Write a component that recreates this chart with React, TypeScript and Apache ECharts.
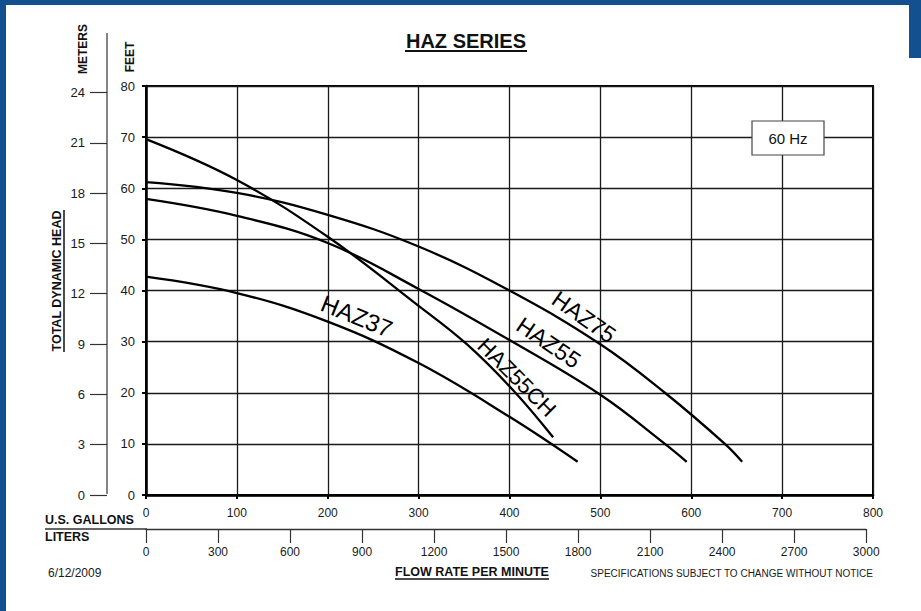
import { useEffect, useRef } from "react";
import * as echarts from "echarts";

// ---- axis scales ----
const GALLON_MAX = 800;
const GALLON_STEP = 100;
const FEET_MAX = 80;
const FEET_STEP = 10;
const LITER_MAX = 3000;
const LITER_STEP = 300;
const meterTicks = [0, 3, 6, 9, 12, 15, 18, 21, 24];
const FT_PER_M = 3.28084;
const L_PER_GAL = 3.78541;

// ---- pump curves: [US gallons per minute, feet of head] ----
const haz75 = [
  [0, 61.2], [100, 59.1], [200, 54.8], [300, 48.6], [400, 40.0],
  [500, 29.5], [571, 20], [637, 10], [656, 6.5],
];
const haz55 = [
  [0, 57.9], [100, 54.6], [200, 49.3], [300, 40.3], [400, 30.3],
  [500, 19.6], [571, 10], [595, 6.5],
];
const haz55ch = [
  [0, 69.6], [100, 61.6], [200, 50.5], [300, 37.0], [353, 29.5],
  [404, 20.5], [448, 11.3],
];
const haz37 = [
  [0, 42.7], [100, 39.5], [200, 33.9], [300, 25.8], [400, 15.3],
  [475, 6.5],
];

const curveNames = ["HAZ75", "HAZ55", "HAZ55CH", "HAZ37"];
const curveData = [haz75, haz55, haz55ch, haz37];
// label anchors in data coordinates (gpm, ft), text angle in degrees, font size
const labelAnchors = [[482, 34.8], [443, 29.8], [408, 23.0], [232, 35.0]];
const labelAngles = [-35, -34, -45, -22];
const labelSizes = [23, 23, 22, 24];

const FONT = "Liberation Sans, Arial, Helvetica, sans-serif";

export default function App() {
  const ref = useRef<HTMLDivElement>(null);

  useEffect(() => {
    if (!ref.current) return;
    const chart = echarts.init(ref.current, null, { renderer: "svg" });

    const gridLeft = 146;
    const gridTop = 86;
    const gridWidth = 727;
    const gridHeight = 409;
    const literWidth = (gridWidth * (LITER_MAX / L_PER_GAL)) / GALLON_MAX;

    const axisText = { color: "#1a1a1a", fontFamily: FONT };

    chart.setOption({
      animation: false,
      backgroundColor: "#ffffff",
      grid: [
        {
          left: gridLeft,
          top: gridTop,
          width: gridWidth,
          height: gridHeight,
          show: true,
          borderColor: "#000",
          borderWidth: 2,
          backgroundColor: "transparent",
        },
        {
          left: gridLeft,
          top: 479,
          width: literWidth,
          height: 50,
          show: false,
        },
      ],
      xAxis: [
        {
          type: "value",
          gridIndex: 0,
          min: 0,
          max: GALLON_MAX,
          interval: GALLON_STEP,
          position: "bottom",
          axisLine: { show: true, lineStyle: { color: "#000", width: 2.5 } },
          axisTick: { show: true, length: 4, lineStyle: { color: "#000", width: 2 } },
          axisLabel: { ...axisText, fontSize: 12, margin: 12, formatter: (v: number) => String(v) },
          splitLine: { show: true, lineStyle: { color: "#1a1a1a", width: 1.3 } },
        },
        {
          type: "value",
          gridIndex: 1,
          min: 0,
          max: LITER_MAX,
          interval: LITER_STEP,
          position: "bottom",
          axisLine: { show: true, lineStyle: { color: "#333", width: 1.3 } },
          axisTick: { show: true, length: 14, lineStyle: { color: "#333", width: 1.2 } },
          axisLabel: { ...axisText, fontSize: 12, margin: 17, formatter: (v: number) => String(v) },
          splitLine: { show: false },
        },
      ],
      yAxis: [
        {
          type: "value",
          gridIndex: 0,
          min: 0,
          max: FEET_MAX,
          interval: FEET_STEP,
          position: "left",
          axisLine: { show: true, lineStyle: { color: "#000", width: 2.5 } },
          axisTick: { show: true, length: 4, lineStyle: { color: "#000", width: 2 } },
          axisLabel: { ...axisText, fontSize: 13, margin: 11 },
          splitLine: { show: true, lineStyle: { color: "#1a1a1a", width: 1.3 } },
        },
        {
          type: "value",
          gridIndex: 0,
          min: 0,
          max: FEET_MAX / FT_PER_M,
          interval: 3,
          position: "left",
          offset: 39,
          axisLine: { show: false },
          axisTick: {
            show: true,
            length: 17,
            customValues: meterTicks,
            lineStyle: { color: "#333", width: 1.2 },
          },
          axisLabel: {
            ...axisText,
            fontSize: 13,
            margin: 22,
            customValues: meterTicks,
            formatter: (v: number) =>
              Math.abs(v - Math.round(v)) < 1e-6 ? String(Math.round(v)) : "",
          },
          splitLine: { show: false },
        },
        {
          type: "value",
          gridIndex: 1,
          show: false,
          min: 0,
          max: 1,
        },
      ],
      series: curveNames.map((name, i) => ({
        name,
        type: "line",
        xAxisIndex: 0,
        yAxisIndex: 0,
        data: curveData[i],
        showSymbol: false,
        symbol: "none",
        smooth: 0.4,
        silent: true,
        z: 4,
        lineStyle: { color: "#000", width: 2.3 },
      })),
    });

    const graphics: any[] = [];
    // blue frame
    graphics.push(
      { type: "rect", shape: { x: 0, y: 0, width: 6, height: 611 }, style: { fill: "#12508f" }, z: 100 },
      { type: "rect", shape: { x: 0, y: 0, width: 921, height: 5 }, style: { fill: "#12508f" }, z: 100 },
      { type: "rect", shape: { x: 909, y: 0, width: 12, height: 58 }, style: { fill: "#12508f" }, z: 100 }
    );
    // title
    graphics.push(
      {
        type: "text",
        x: 466,
        y: 41,
        style: {
          text: "HAZ SERIES",
          font: `bold 20px ${FONT}`,
          fill: "#111",
          textAlign: "center",
          textVerticalAlign: "middle",
        },
        z: 50,
      },
      { type: "line", shape: { x1: 405, y1: 51, x2: 527, y2: 51 }, style: { stroke: "#111", lineWidth: 2 }, z: 50 }
    );
    // meters axis line
    graphics.push({
      type: "line",
      shape: { x1: 107, y1: 33, x2: 107, y2: 494 },
      style: { stroke: "#333", lineWidth: 1.2 },
      z: 50,
    });
    // rotated axis titles
    graphics.push(
      {
        type: "text",
        x: 83,
        y: 49,
        rotation: Math.PI / 2,
        style: { text: "METERS", font: `bold 12px ${FONT}`, fill: "#111", textAlign: "center", textVerticalAlign: "middle" },
        z: 50,
      },
      {
        type: "text",
        x: 130,
        y: 57,
        rotation: Math.PI / 2,
        style: { text: "FEET", font: `bold 12px ${FONT}`, fill: "#111", textAlign: "center", textVerticalAlign: "middle" },
        z: 50,
      },
      {
        type: "text",
        x: 57,
        y: 281,
        rotation: Math.PI / 2,
        style: { text: "TOTAL DYNAMIC HEAD", font: `bold 12.5px ${FONT}`, fill: "#111", textAlign: "center", textVerticalAlign: "middle" },
        z: 50,
      },
      { type: "line", shape: { x1: 64, y1: 210, x2: 64, y2: 352 }, style: { stroke: "#111", lineWidth: 1.5 }, z: 50 }
    );
    // bottom axis captions
    graphics.push(
      {
        type: "text",
        x: 45,
        y: 520,
        style: { text: "U.S. GALLONS", font: `bold 12.5px ${FONT}`, fill: "#111", textAlign: "left", textVerticalAlign: "middle" },
        z: 50,
      },
      { type: "line", shape: { x1: 45, y1: 529, x2: 147, y2: 529 }, style: { stroke: "#333", lineWidth: 1.3 }, z: 50 },
      {
        type: "text",
        x: 45,
        y: 537,
        style: { text: "LITERS", font: `bold 12.5px ${FONT}`, fill: "#111", textAlign: "left", textVerticalAlign: "middle" },
        z: 50,
      },
      {
        type: "text",
        x: 48,
        y: 573,
        style: { text: "6/12/2009", font: `12px ${FONT}`, fill: "#1a1a1a", textAlign: "left", textVerticalAlign: "middle" },
        z: 50,
      },
      {
        type: "text",
        x: 472,
        y: 572,
        style: { text: "FLOW RATE PER MINUTE", font: `bold 12.5px ${FONT}`, fill: "#111", textAlign: "center", textVerticalAlign: "middle" },
        z: 50,
      },
      { type: "line", shape: { x1: 395, y1: 579, x2: 549, y2: 579 }, style: { stroke: "#111", lineWidth: 1.5 }, z: 50 },
      {
        type: "text",
        x: 873,
        y: 573,
        style: {
          text: "SPECIFICATIONS SUBJECT TO CHANGE WITHOUT NOTICE",
          font: `10px ${FONT}`,
          fill: "#1a1a1a",
          textAlign: "right",
          textVerticalAlign: "middle",
        },
        z: 50,
      }
    );
    // 60 Hz box
    graphics.push(
      {
        type: "rect",
        shape: { x: 752, y: 121, width: 72, height: 34 },
        style: { fill: "#fff", stroke: "#444", lineWidth: 1.2 },
        z: 60,
      },
      {
        type: "text",
        x: 788,
        y: 138,
        style: { text: "60 Hz", font: `15px ${FONT}`, fill: "#111", textAlign: "center", textVerticalAlign: "middle" },
        z: 61,
      }
    );
    // curve labels
    curveNames.forEach((name, i) => {
      const p = chart.convertToPixel({ xAxisIndex: 0, yAxisIndex: 0 }, labelAnchors[i]) as number[];
      graphics.push({
        type: "text",
        x: p[0],
        y: p[1],
        rotation: (labelAngles[i] * Math.PI) / 180,
        style: {
          text: name,
          font: `${labelSizes[i]}px ${FONT}`,
          fill: "#000",
          textAlign: "center",
          textVerticalAlign: "middle",
        },
        z: 55,
      });
    });

    chart.setOption({ graphic: graphics });

    return () => chart.dispose();
  }, []);

  return (
    <div
      ref={ref}
      style={{ position: "absolute", left: 0, top: 0, width: 921, height: 611, background: "#fff" }}
    />
  );
}
